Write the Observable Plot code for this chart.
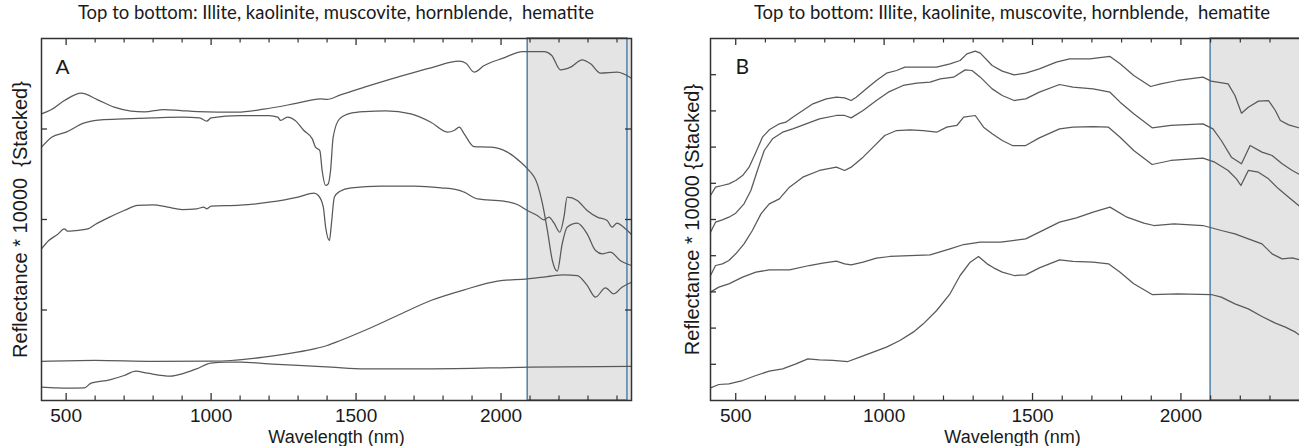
<!DOCTYPE html>
<html><head><meta charset="utf-8">
<script src="https://cdn.jsdelivr.net/npm/d3@7"></script>
<script src="https://cdn.jsdelivr.net/npm/@observablehq/plot@0.6"></script>
<style>
html,body{margin:0;padding:0;background:#fff;overflow:hidden;width:1299px;height:446px;}
.panel{position:absolute;top:0;height:446px;}
.title{position:absolute;top:0;height:25px;line-height:25px;text-align:center;font-family:Lato,"Open Sans",sans-serif;font-size:18.5px;white-space:pre;color:#1a1a1a;}
.panel svg{position:absolute;top:25px;left:0;}
</style></head><body>
<div id="A" class="panel" style="left:0;width:650px"><div class="title" style="left:41px;width:590px"></div></div>
<div id="B" class="panel" style="left:650px;width:665px"><div class="title" style="left:60px;width:604px"></div></div>
<script>
// ---- text ----
const titleText = "Top to bottom: Illite, kaolinite, muscovite, hornblende,  hematite";
const xLabel = "Wavelength (nm)";
const yLabelA = "Reflectance * 10000  {Stacked}";
const yLabelB = "Reflectance * 10000 {Stacked}";
const majorTicks = [500, 1000, 1500, 2000];
const minorTicks = [600, 700, 800, 900, 1100, 1200, 1300, 1400, 1600, 1700, 1800, 1900, 2100, 2200, 2300, 2400];
const yTicksA = [1000, 2000, 3000];
const yTicksB = [1000, 2000, 3000, 4000, 5000, 6000, 7000, 8000, 9000];
const wavelengthDomain = [415, 2450];
const shadeA = [2092, 2436];
const shadeB = [2100, 2436];

// ---- panel A (wavelength nm, stacked reflectance) ----
const illiteA = [[415,3167],[448,3212],[494,3315],[552,3396],[609,3322],[666,3241],[724,3197],[770,3189],[838,3215],[896,3204],[953,3193],[1091,3186],[1182,3219],[1297,3285],[1377,3333],[1400,3326],[1446,3377],[1529,3462],[1643,3573],[1758,3676],[1856,3749],[1879,3727],[1907,3628],[1942,3701],[2010,3786],[2074,3856],[2148,3856],[2175,3812],[2205,3653],[2240,3683],[2280,3764],[2309,3720],[2343,3617],[2400,3628],[2450,3561]];
const kaoliniteA = [[415,2799],[450,2910],[500,2965],[560,3064],[620,3101],[700,3112],[800,3123],[900,3131],[960,3123],[985,3086],[1000,3123],[1100,3149],[1200,3149],[1230,3131],[1240,3094],[1263,3131],[1290,3094],[1320,2983],[1349,2891],[1360,2799],[1375,2762],[1383,2541],[1395,2376],[1404,2394],[1412,2541],[1421,2910],[1443,3112],[1483,3175],[1529,3193],[1603,3201],[1689,3167],[1758,3075],[1815,2965],[1838,2983],[1856,3020],[1873,2946],[1907,2806],[1965,2799],[2022,2744],[2068,2633],[2091,2560],[2125,2394],[2143,2173],[2160,1878],[2177,1547],[2194,1429],[2211,1731],[2228,1915],[2263,1959],[2297,1842],[2326,1657],[2349,1621],[2377,1639],[2411,1547],[2450,1492]];
const muscoviteA = [[415,1676],[440,1768],[470,1834],[494,1897],[505,1871],[530,1878],[575,1897],[600,1945],[650,2026],[700,2099],[747,2155],[800,2162],[850,2136],[900,2110],[950,2118],[975,2136],[985,2118],[1000,2147],[1100,2158],[1200,2191],[1300,2247],[1355,2291],[1370,2265],[1387,2136],[1395,1915],[1408,1768],[1415,1952],[1425,2247],[1443,2309],[1483,2350],[1586,2368],[1701,2368],[1793,2350],[1850,2328],[1873,2302],[1919,2228],[2010,2202],[2056,2166],[2091,2099],[2125,2044],[2148,1996],[2165,2026],[2183,1959],[2203,1860],[2217,2026],[2228,2247],[2263,2210],[2297,2099],[2332,2026],[2366,1989],[2383,1915],[2400,1959],[2423,1915],[2450,1834]];
const hornblendeA = [[415,431],[600,442],[800,431],[1000,435],[1068,442],[1182,479],[1297,534],[1355,571],[1400,608],[1446,663],[1529,773],[1643,939],[1758,1105],[1873,1223],[1988,1319],[2091,1344],[2160,1370],[2217,1388],[2263,1381],[2297,1271],[2326,1142],[2360,1245],[2389,1179],[2417,1252],[2450,1307]];
const hematiteA = [[415,147],[460,140],[500,136],[563,140],[586,192],[650,228],[700,276],[740,324],[780,302],[861,269],[900,295],[950,350],[999,412],[1050,424],[1100,424],[1200,405],[1300,387],[1414,368],[1529,350],[1758,350],[2100,368],[2450,376]];

// ---- panel B ----
const illiteB = [[415,5663],[432,5893],[455,5939],[477,5985],[500,6077],[523,6215],[545,6446],[568,6860],[590,7274],[613,7477],[647,7643],[669,7689],[692,7827],[726,8011],[760,8195],[805,8333],[839,8379],[867,8361],[889,8287],[906,8379],[940,8609],[974,8840],[1008,9042],[1042,9116],[1070,9208],[1110,9208],[1177,9208],[1222,9300],[1256,9392],[1279,9576],[1307,9650],[1324,9595],[1364,9254],[1398,9098],[1438,8996],[1477,9042],[1523,9162],[1580,9346],[1625,9438],[1693,9438],[1761,9503],[1795,9300],[1841,8978],[1898,8674],[1932,8748],[1989,8840],[2074,8932],[2102,8821],[2159,8748],[2182,8425],[2204,7937],[2227,8103],[2261,8269],[2295,8287],[2318,8011],[2335,7735],[2363,7615],[2417,7486],[2450,7420]];
const kaoliniteB = [[415,4650],[432,4926],[455,4991],[477,5064],[500,5175],[528,5433],[551,5801],[573,6354],[596,6906],[624,7228],[658,7412],[692,7505],[737,7643],[782,7781],[839,7873],[867,7873],[889,7808],[929,8011],[974,8287],[1014,8517],[1064,8702],[1110,8766],[1155,8794],[1189,8886],[1234,8932],[1273,9134],[1296,9116],[1324,8932],[1364,8609],[1398,8425],[1438,8287],[1477,8333],[1523,8517],[1591,8729],[1636,8656],[1704,8609],[1761,8517],[1795,8241],[1841,7919],[1903,7532],[1966,7597],[2074,7643],[2108,7505],[2136,7182],[2170,6722],[2204,6538],[2233,7044],[2273,6860],[2307,6768],[2341,6538],[2375,6354],[2417,6169],[2450,6050]];
const muscoviteB = [[415,3453],[432,3729],[455,3775],[477,3867],[500,4052],[528,4328],[556,4696],[585,5156],[613,5433],[647,5571],[681,5893],[726,6169],[782,6354],[839,6446],[867,6354],[889,6446],[929,6722],[963,6998],[1002,7320],[1042,7458],[1087,7477],[1132,7458],[1177,7412],[1211,7551],[1245,7597],[1268,7827],[1307,7873],[1335,7551],[1364,7366],[1398,7182],[1432,7044],[1477,7044],[1523,7256],[1591,7505],[1636,7551],[1704,7569],[1756,7551],[1795,7274],[1841,6906],[1903,6519],[1966,6630],[2074,6694],[2114,6584],[2159,6354],[2187,6123],[2202,5939],[2227,6354],[2261,6307],[2295,6123],[2329,5847],[2363,5617],[2417,5249],[2450,5080]];
const hornblendeB = [[415,2993],[443,3131],[477,3223],[523,3407],[568,3545],[613,3610],[681,3610],[748,3729],[793,3794],[839,3849],[867,3775],[889,3748],[929,3821],[974,3932],[1019,3978],[1087,4005],[1155,4024],[1222,4190],[1268,4309],[1324,4374],[1392,4374],[1420,4401],[1477,4466],[1523,4650],[1591,4926],[1648,5046],[1704,5203],[1761,5341],[1818,5064],[1875,4899],[1909,4834],[1977,4880],[2074,4834],[2136,4696],[2182,4604],[2227,4466],[2273,4328],[2307,4052],[2341,3913],[2375,3941],[2417,3849],[2450,3810]];
const hematiteB = [[415,350],[443,442],[477,460],[523,552],[568,691],[613,810],[658,875],[703,1013],[743,1151],[782,1123],[827,1105],[878,1077],[918,1197],[963,1335],[1008,1473],[1053,1657],[1098,1888],[1132,2118],[1177,2486],[1222,2947],[1256,3453],[1290,3821],[1318,3978],[1347,3775],[1369,3665],[1398,3545],[1438,3453],[1477,3471],[1523,3665],[1591,3886],[1636,3840],[1704,3821],[1756,3775],[1795,3545],[1841,3223],[1903,2928],[1989,2947],[2102,2928],[2136,2854],[2182,2670],[2227,2532],[2273,2320],[2318,2136],[2352,2026],[2386,1888],[2417,1703],[2450,1640]];

const seriesNames = ["Illite", "Kaolinite", "Muscovite", "Hornblende", "Hematite"];

function toRows(list) {
  return list.flatMap((arr, i) => arr.map(([nm, v]) => ({name: seriesNames[i], nm, v})));
}

function panel({rows, yMax, yTicks, letter, letterFont, letterDx, yLabel, yLabelDx, width, marginLeft, marginRight, shade, curve}) {
  const H = 421, mt = 13, mb = 46;
  const innerW = width - marginLeft - marginRight, innerH = H - mt - mb;
  const tickColor = "#333";
  const sans = "'Liberation Sans', Arial, sans-serif";
  return Plot.plot({
    width, height: H, marginTop: mt, marginBottom: mb, marginLeft, marginRight,
    x: {domain: wavelengthDomain, label: null},
    y: {domain: [0, yMax], axis: null},
    style: {fontFamily: sans, background: "white", color: "#1a1a1a", overflow: "visible"},
    marks: [
      Plot.rect([{x1: shade[0], x2: wavelengthDomain[1]}], {x1: "x1", x2: "x2", fill: "#e4e4e4"}),
      Plot.rect([{x1: shade[0], x2: shade[1]}], {x1: "x1", x2: "x2", fill: "none", stroke: "#5a86ad", strokeWidth: 1.6}),
      Plot.line(rows, {x: "nm", y: "v", z: "name", stroke: "#595959", strokeWidth: 1.25, curve}),
      Plot.ruleX(minorTicks, {insetTop: innerH - 4.5, stroke: tickColor, strokeWidth: 1.2}),
      Plot.ruleX(minorTicks, {insetBottom: innerH - 4.5, stroke: tickColor, strokeWidth: 1.2}),
      Plot.ruleX(majorTicks, {insetTop: innerH - 7, stroke: tickColor, strokeWidth: 1.3}),
      Plot.ruleX(majorTicks, {insetBottom: innerH - 7, stroke: tickColor, strokeWidth: 1.3}),
      Plot.ruleY(yTicks, {insetRight: innerW - 6, stroke: tickColor, strokeWidth: 1.3}),
      Plot.ruleY(yTicks, {insetLeft: innerW - 6, stroke: tickColor, strokeWidth: 1.3}),
      Plot.frame({stroke: "#333", strokeWidth: 1.5}),
      Plot.axisX({ticks: majorTicks, tickSize: 0, tickPadding: 8, fontSize: 19, label: null, tickFormat: d => String(d)}),
      Plot.text([xLabel], {text: d => d, frameAnchor: "bottom", lineAnchor: "bottom", dy: 42, fontSize: 18}),
      Plot.text([yLabel], {text: d => d, frameAnchor: "left", textAnchor: "middle", lineAnchor: "middle", rotate: -90, dx: yLabelDx, fontSize: 20}),
      Plot.text([letter], {text: d => d, frameAnchor: "top-left", textAnchor: "start", lineAnchor: "middle", dx: letterDx, dy: 29, fontSize: 21, fontFamily: letterFont})
    ]
  });
}

document.querySelectorAll(".title").forEach(t => t.textContent = titleText);

document.getElementById("A").appendChild(panel({
  rows: toRows([illiteA, kaoliniteA, muscoviteA, hornblendeA, hematiteA]),
  yMax: 4000, yTicks: yTicksA, letter: "A", letterFont: "'Liberation Sans', Arial, sans-serif", letterDx: 14,
  yLabel: yLabelA, yLabelDx: -21, width: 650, marginLeft: 41, marginRight: 19, shade: shadeA, curve: "monotone-x"
}));

document.getElementById("B").appendChild(panel({
  rows: toRows([illiteB, kaoliniteB, muscoviteB, hornblendeB, hematiteB]),
  yMax: 10000, yTicks: yTicksB, letter: "B", letterFont: "Lato, sans-serif", letterDx: 25,
  yLabel: yLabelB, yLabelDx: -18, width: 665, marginLeft: 60, marginRight: 1, shade: shadeB, curve: "linear"
}));
</script>
</body></html>
